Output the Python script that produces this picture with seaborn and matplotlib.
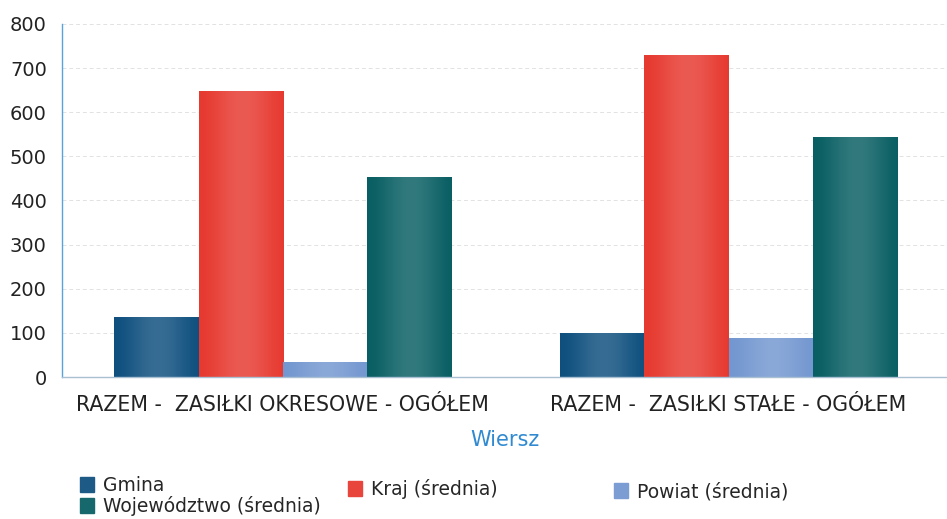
import numpy as np
import pandas as pd
import matplotlib
matplotlib.use("Agg")
import matplotlib.pyplot as plt
import seaborn as sns

categories = ["RAZEM -  ZASIŁKI OKRESOWE - OGÓŁEM", "RAZEM -  ZASIŁKI STAŁE - OGÓŁEM"]
series = ["Gmina", "Kraj (średnia)", "Powiat (średnia)", "Województwo (średnia)"]
gmina = [136, 99]
kraj = [649, 730]
powiat = [34, 88]
wojewodztwo = [454, 545]
colors = ["#1d5a86", "#e8453c", "#7b9dd3", "#17686c"]

rows = []
for name, vals in zip(series, [gmina, kraj, powiat, wojewodztwo]):
    for cat, v in zip(categories, vals):
        rows.append({"Wiersz": cat, "Seria": name, "Wartość": v})
df = pd.DataFrame(rows)

sns.set_style("white")
plt.rcParams["font.family"] = ["DejaVu Sans"]

fig = plt.figure(figsize=(9.47, 5.19), dpi=100)
ax = fig.add_axes([0.0655, 0.2736, 0.9345, 0.6802])

sns.barplot(data=df, x="Wiersz", y="Wartość", hue="Seria", hue_order=series,
            order=categories, palette=colors, width=0.755, saturation=1,
            edgecolor="none", ax=ax, legend=False)

# soft cylindrical shading on each bar
grad = np.linspace(0, 1, 64)
shade = 0.22 * np.sin(grad * np.pi * 0.9 + 0.1) ** 2 - 0.08
for patch in list(ax.patches):
    x0, y0 = patch.get_x(), patch.get_y()
    w, h = patch.get_width(), patch.get_height()
    base = np.array(matplotlib.colors.to_rgb(patch.get_facecolor()))
    img = np.clip(base[None, :] + shade[:, None] * (1 - base[None, :]) * 0.8, 0, 1)
    im = ax.imshow(img[None, :, :], extent=[x0, x0 + w, y0, y0 + h],
                   aspect="auto", zorder=patch.get_zorder() + 0.1, interpolation="bilinear")
    im.set_clip_path(patch)

ax.set_xlim(-0.495, 1.49)
ax.set_ylim(0, 800)
ax.set_yticks(range(0, 801, 100))
ax.yaxis.grid(True, color="#e2e2e2", linestyle=(0, (4, 3)), linewidth=0.7)
ax.set_axisbelow(True)
ax.tick_params(axis="both", length=0, colors="#222222")
ax.tick_params(axis="x", pad=13, labelsize=14.8)
ax.tick_params(axis="y", pad=11, labelsize=14)
ax.set_ylabel("")
ax.set_xlabel("Wiersz", color="#2f8ad2", fontsize=15, labelpad=11)

for s in ["top", "right"]:
    ax.spines[s].set_visible(False)
ax.spines["left"].set_color("#5aa2da")
ax.spines["left"].set_linewidth(1.0)
ax.spines["bottom"].set_color("#a9bfd2")
ax.spines["bottom"].set_linewidth(1.0)

handles = [plt.Rectangle((0, 0), 1, 1, color=c) for c in colors]
leg_kw = dict(loc="upper left", frameon=False, fontsize=13.5, handlelength=0.75,
              handleheight=0.8, handletextpad=0.45, labelspacing=0.05,
              borderaxespad=0, borderpad=0)
fig.legend([handles[0], handles[3]], [series[0], series[3]],
           bbox_to_anchor=(80 / 947, 1 - 476 / 519), **leg_kw)
fig.legend([handles[1]], [series[1]],
           bbox_to_anchor=(348 / 947, 1 - 479 / 519), **leg_kw)
fig.legend([handles[2]], [series[2]],
           bbox_to_anchor=(614 / 947, 1 - 482 / 519), **leg_kw)

fig.savefig("out.png", dpi=100)
